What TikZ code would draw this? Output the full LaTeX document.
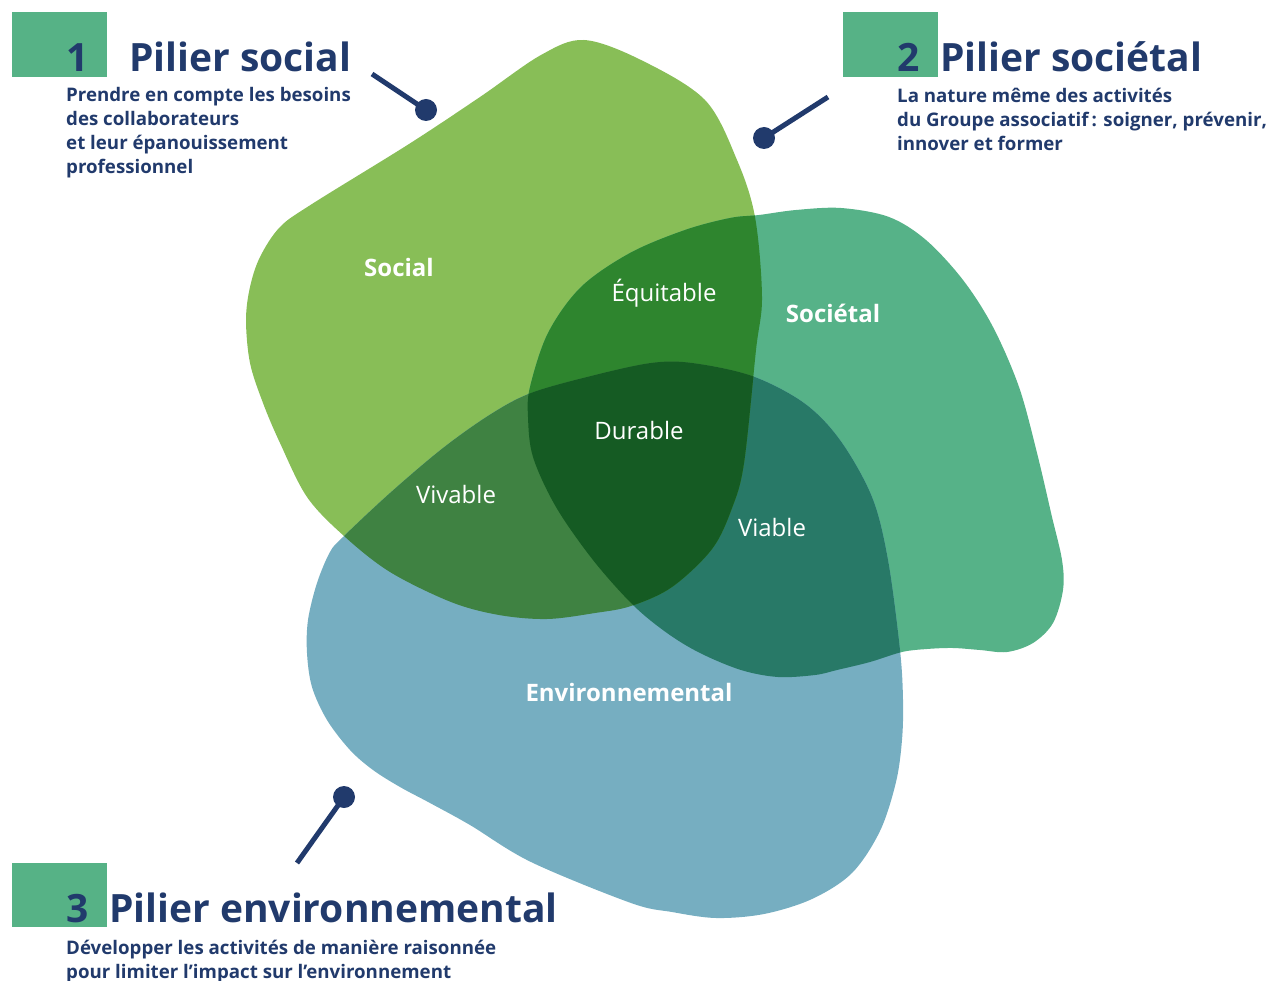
\documentclass[tikz,border=0pt]{standalone}
\usepackage{fontspec}
\setmainfont{Open Sans}
\definecolor{navy}{RGB}{33,58,108}
\definecolor{boxgreen}{RGB}{86,178,134}
\definecolor{socC}{RGB}{136,190,87}
\definecolor{socetC}{RGB}{86,178,136}
\definecolor{envC}{RGB}{118,174,193}
\definecolor{stC}{RGB}{46,133,46}
\definecolor{seC}{RGB}{63,130,66}
\definecolor{teC}{RGB}{40,121,103}
\definecolor{steC}{RGB}{21,91,35}
\def\Spath{plot[smooth cycle,tension=0.55] coordinates {(584,40) (641,60) (705,100) (737,160) (755,217) (762,297) (756,350) (744,463) (732,508) (712,549) (672,587) (631,606) (595,613) (547,619) (499,615) (451,602) (390,572) (344,536) (307,497) (280,443) (263,403) (250,363) (246,320) (250,287) (260,257) (280,227) (312,204) (409,144) (480,97) (541,55)}}
\def\Tpath{plot[smooth cycle,tension=0.55] coordinates {(759,215) (796,210) (841,208) (889,217) (926,240) (963,280) (993,327) (1019,387) (1037,453) (1052,517) (1062,560) (1063,590) (1053,623) (1033,643) (1007,652) (980,650) (953,648) (927,649) (902,652) (870,662) (837,670) (815,675) (778,677) (741,670) (700,653) (667,633) (633,605) (593,560) (556,507) (533,457) (528,417) (530,387) (548,333) (581,287) (630,253) (685,230) (730,218)}}
\def\Epath{plot[smooth cycle,tension=0.55] coordinates {(531,393) (591,376) (651,363) (692,363) (752,376) (804,403) (840,440) (872,497) (888,560) (900,650) (903,700) (902,740) (896,782) (880,831) (852,873) (812,899) (764,914) (716,918) (672,912) (631,903) (531,862) (470,825) (430,803) (400,787) (373,770) (350,750) (327,720) (312,687) (307,653) (308,620) (317,583) (330,552) (343,537) (390,493) (443,448) (491,414)}}
\tikzset{
  boxsq/.style={fill=boxgreen,draw=none},
  titletxt/.style={anchor=base west,inner sep=0,text=navy,font=\fontsize{39}{46}\selectfont\bfseries},
  subtxt/.style={anchor=base west,inner sep=0,text=navy,font=\fontsize{18.7}{24}\selectfont\bfseries},
  biglbl/.style={inner sep=0,text=white,font=\fontsize{24}{28}\selectfont\bfseries},
  lbl/.style={inner sep=0,text=white,font=\fontsize{24}{28}\selectfont},
  pinline/.style={draw=navy,line width=5pt},
  pindot/.style={circle,fill=navy,inner sep=0,minimum size=22pt}
}
\begin{document}
\begin{tikzpicture}[x=1pt,y=-1pt]
\useasboundingbox (0,0) rectangle (1271,981);
% blobs
\fill[socC] \Spath;
\fill[socetC] \Tpath;
\fill[envC] \Epath;
\begin{scope}
  \clip \Tpath;
  \fill[teC] \Epath;
\end{scope}
\begin{scope}
  \clip \Spath;
  \fill[stC] \Tpath;
  \fill[seC] \Epath;
  \clip \Tpath;
  \fill[steC] \Epath;
\end{scope}
% labels
\node[biglbl] (lsocial) at (399,268) {Social};
\node[biglbl] (lsocietal) at (833,313) {Sociétal};
\node[biglbl] (lenv) at (629,692) {Environnemental};
\node[lbl] (lequit) at (664,293) {Équitable};
\node[lbl] (ldur) at (639,430) {Durable};
\node[lbl] (lviv) at (456,494) {Vivable};
\node[lbl] (lvia) at (772,527) {Viable};
% boxes
\fill[boxsq] (12,12) rectangle (107,77);
\fill[boxsq] (843,12) rectangle (938,77);
\fill[boxsq] (12,863) rectangle (107,927);
% titles
\node[titletxt] (n1) at (66,72) {1};
\node[titletxt] (t1) at (129,72) {Pilier social};
\node[titletxt] (n2) at (897,72) {2};
\node[titletxt] (t2) at (940,72) {Pilier sociétal};
\node[titletxt] (n3) at (66,922) {3};
\node[titletxt] (t3) at (109,922) {Pilier environnemental};
% subtitles
\node[subtxt] (s1a) at (66,102) {Prendre en compte les besoins};
\node[subtxt] (s1b) at (66,126) {des collaborateurs};
\node[subtxt] (s1c) at (66,150) {et leur épanouissement};
\node[subtxt] (s1d) at (66,174) {professionnel};
\node[subtxt] (s2a) at (897,103) {La nature même des activités};
\node[subtxt] (s2b) at (897,127) {du Groupe associatif\,: soigner, prévenir,};
\node[subtxt] (s2c) at (897,151) {innover et former};
\node[subtxt] (s3a) at (66,954) {Développer les activités de manière raisonnée};
\node[subtxt] (s3b) at (66,978) {pour limiter l’impact sur l’environnement};
% pins
\node[pindot] (d1) at (426,110) {};
\coordinate (e1) at (372,74);
\draw[pinline] (e1) -- (d1.center);
\node[pindot] (d2) at (764,138) {};
\coordinate (e2) at (828,97);
\draw[pinline] (e2) -- (d2.center);
\node[pindot] (d3) at (344,797) {};
\coordinate (e3) at (297,863);
\draw[pinline] (e3) -- (d3.center);
\end{tikzpicture}
\end{document}
